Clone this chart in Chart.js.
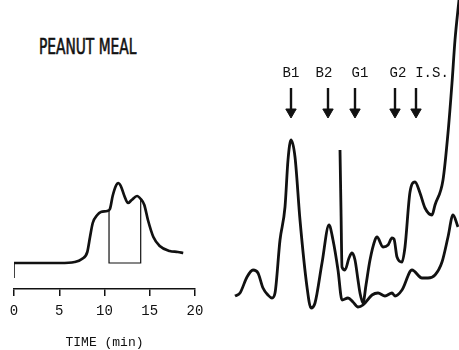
<!DOCTYPE html>
<html lang="en">
<head>
<meta charset="UTF-8">
<title>Peanut meal - chromatograms</title>
<script src="https://cdn.jsdelivr.net/npm/chart.js@4.4.0/dist/chart.umd.min.js"></script>
<style>
  html, body { margin: 0; padding: 0; background: #fff; }
  body { width: 459px; height: 350px; position: relative; overflow: hidden; }
  #leftBox { position: absolute; left: 0; top: 0; width: 220px; height: 350px; }
  #rightBox { position: absolute; left: 230px; top: 0; width: 229px; height: 350px; }
  #sample {
    position: absolute; left: 39px; top: 37px;
    font: 21px/1 "DejaVu Sans Condensed", "DejaVu Sans", sans-serif;
    -webkit-text-stroke: 0.6px #111;
    color: #111; white-space: nowrap;
    transform: scaleX(0.73); transform-origin: left top;
  }
</style>
</head>
<body>
<div id="sample">PEANUT MEAL</div>
<div id="leftBox"><canvas id="leftChart"></canvas></div>
<div id="rightBox"><canvas id="rightChart"></canvas></div>

<script>
// left trace: time (min) / detector response
var leftTime = [0, 5.1, 6.7, 7.5, 8.1, 8.4, 8.7, 9.2, 9.6, 10.3, 10.6, 10.9, 11.3, 11.5, 11.8, 12.2, 12.6, 13.0, 13.6, 14.0, 14.4, 14.8, 15.4, 16.1, 17.2, 18.1, 18.7];
var leftResp = [0, 0, 1, 4, 11, 26, 40, 48, 51, 52, 54, 67, 78, 80, 77, 67, 60, 63, 67, 64, 58, 43, 26, 17, 12, 11, 10];
// collected fraction (10.5 - 14 min)
var cutTime = [10.5, 10.5, 14.0, 14.0];
var cutResp = [52, 0, 0, 65];
// pen start mark
var startTime = [0, 0];
var startResp = [-15, 0];
var timeTicks = [0, 5, 10, 15, 20];

// right traces (arbitrary retention units)
var lowerX = [0.5, 1.0, 1.7, 2.3, 2.8, 3.3, 3.8, 4.2, 4.5, 5.0, 5.5, 5.8, 6.1, 6.5, 7.0, 7.7, 8.1, 8.5, 9.2, 9.9, 10.3, 10.8, 11.2, 11.8, 12.3, 12.8, 13.3, 14.2, 14.8, 15.5, 16.2, 16.5, 17.2, 18.2, 19.2, 19.8, 20.5, 21.2, 21.8, 22.3, 22.8];
var lowerY = [14, 17, 33, 40, 37, 22, 15, 12, 17, 70, 103, 150, 170, 153, 90, 23, 2, 7, 47, 85, 70, 40, 10, 12, 8, 3, 5, 15, 17, 14, 17, 14, 20, 40, 32, 32, 35, 48, 73, 95, 83];
var upperX = [11.0, 11.1, 11.2, 11.5, 11.9, 12.2, 12.5, 12.8, 13.0, 13.3, 13.6, 14.0, 14.5, 14.7, 15.3, 15.8, 16.2, 16.4, 16.7, 17.2, 17.5, 18.0, 18.5, 19.0, 19.5, 20.2, 20.5, 21.3, 21.8, 22.2, 22.5, 22.9];
var upperY = [160, 100, 43, 40, 52, 57, 50, 30, 17, 7, 25, 50, 70, 73, 63, 65, 72, 71, 53, 48, 63, 118, 128, 117, 102, 95, 105, 130, 177, 227, 270, 310];

var peakNames = ['B1', 'B2', 'G1', 'G2', 'I.S.'];
var labelX = [6.1, 9.4, 13.0, 16.8, 20.2];
var arrowX = [6.1, 9.8, 12.5, 16.5, 18.6];
var labelY = 237;
var arrowTop = 222;
var arrowHead = 198;

var ink = '#111';
var mono = '"Liberation Mono", "DejaVu Sans Mono", monospace';

function pts(xs, ys) {
    return xs.map(function (x, i) { return { x: x, y: ys[i] }; });
}

Chart.defaults.animation = false;
Chart.defaults.responsive = true;
Chart.defaults.maintainAspectRatio = false;
Chart.defaults.plugins.legend.display = false;
Chart.defaults.plugins.tooltip.enabled = false;

// Left chromatogram
new Chart(document.getElementById('leftChart'), {
    type: 'line',
    data: {
        datasets: [{
            data: pts(leftTime, leftResp),
            borderColor: ink,
            borderWidth: 2.7,
            pointRadius: 0,
            cubicInterpolationMode: 'monotone'
        }, {
            data: pts(cutTime, cutResp),
            borderColor: ink,
            borderWidth: 1.2,
            pointRadius: 0,
            tension: 0
        }, {
            data: pts(startTime, startResp),
            borderColor: ink,
            borderWidth: 1.6,
            pointRadius: 0
        }]
    },
    options: {
        layout: { padding: { left: 14, right: 25, top: 0, bottom: 0 } },
        scales: {
            x: {
                type: 'linear',
                min: 0,
                max: 20,
                afterBuildTicks: function (s) { s.ticks = timeTicks.map(function (v) { return { value: v }; }); },
                afterFit: function (s) { s.height = 61; },
                ticks: { color: ink, font: { family: mono, size: 14 }, padding: 7, maxRotation: 0 },
                grid: { drawOnChartArea: false, color: ink, lineWidth: 1.5, tickLength: 7 },
                border: { color: ink, width: 1.5 },
                title: { display: true, text: 'TIME (min)', color: ink, font: { family: mono, size: 13 }, padding: { top: 0, bottom: 0 } }
            },
            y: { display: false, min: -26, max: 263 }
        }
    }
});

// peak names above the arrows
var peakLabels = {
    id: 'peakLabels',
    afterDatasetsDraw: function (chart) {
        var ctx = chart.ctx, x = chart.scales.x, y = chart.scales.y;
        ctx.save();
        ctx.font = '14px ' + mono;
        ctx.fillStyle = ink;
        ctx.textAlign = 'center';
        ctx.textBaseline = 'middle';
        peakNames.forEach(function (name, i) {
            ctx.fillText(name, x.getPixelForValue(labelX[i]), y.getPixelForValue(labelY));
        });
        ctx.restore();
    }
};

var arrowData = [];
arrowX.forEach(function (x) {
    arrowData.push({ x: x, y: arrowTop }, { x: x, y: arrowHead }, { x: x, y: null });
});

// Right chromatogram
new Chart(document.getElementById('rightChart'), {
    type: 'line',
    data: {
        datasets: [{
            data: pts(lowerX, lowerY),
            borderColor: ink,
            borderWidth: 2.8,
            pointRadius: 0,
            cubicInterpolationMode: 'monotone'
        }, {
            data: pts(upperX, upperY),
            borderColor: ink,
            borderWidth: 2.8,
            pointRadius: 0,
            cubicInterpolationMode: 'monotone'
        }, {
            data: arrowData,
            borderColor: ink,
            borderWidth: 2.4,
            spanGaps: false,
            pointStyle: 'triangle',
            rotation: 180,
            pointRadius: function (c) { return c.dataIndex % 3 === 1 ? 6 : 0; },
            pointBackgroundColor: ink,
            pointBorderColor: ink,
            pointBorderWidth: 1
        }]
    },
    options: {
        layout: { padding: 0 },
        scales: {
            x: { type: 'linear', display: false, min: 0, max: 22.9 },
            y: { display: false, min: -40, max: 310 }
        }
    },
    plugins: [peakLabels]
});
</script>
</body>
</html>
